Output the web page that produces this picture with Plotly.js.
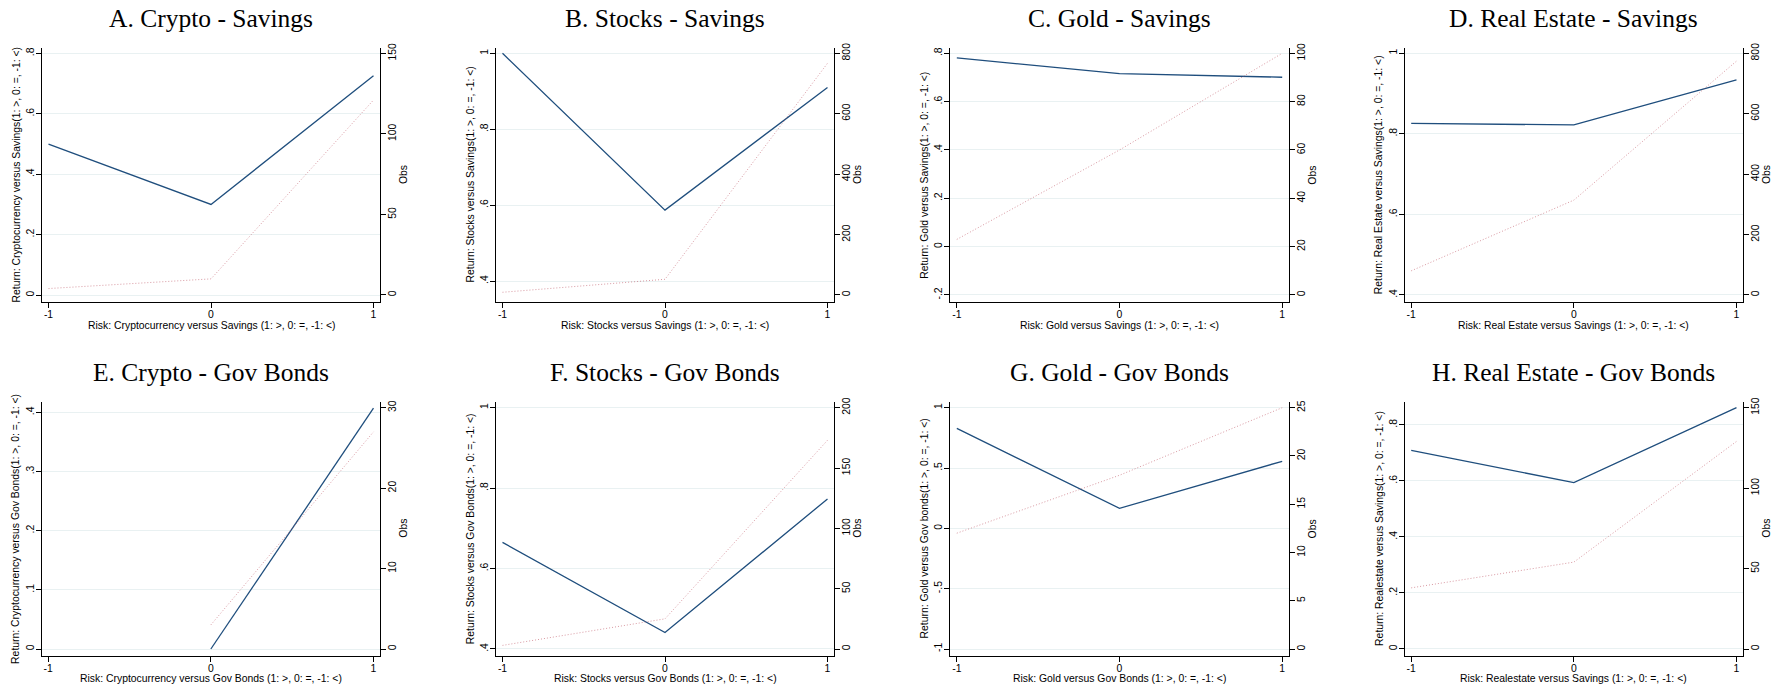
<!DOCTYPE html>
<html>
<head>
<meta charset="utf-8">
<script src="https://cdn.plot.ly/plotly-3.0.1.min.js"></script>
<style>
  html, body { margin: 0; padding: 0; background: #ffffff; }
  #chart { width: 1784px; height: 689px; }
</style>
</head>
<body>
<div id="chart"></div>
<script>
// ---------------- DATA ----------------
const riskCategories = [-1, 0, 1];
const riskTickText = ['-1', '0', '1'];

const panelTitles = [
  'A. Crypto - Savings', 'B. Stocks - Savings', 'C. Gold - Savings', 'D. Real Estate - Savings',
  'E. Crypto - Gov Bonds', 'F. Stocks - Gov Bonds', 'G. Gold - Gov Bonds', 'H. Real Estate - Gov Bonds'
];

const returnTitles = [
  'Return: Cryptocurrency versus Savings(1: >, 0: =, -1: <)',
  'Return: Stocks versus Savings(1: >, 0: =, -1: <)',
  'Return: Gold versus Savings(1: >, 0: =, -1: <)',
  'Return: Real Estate versus Savings(1: >, 0: =, -1: <)',
  'Return: Cryptocurrency versus Gov Bonds(1: >, 0: =, -1: <)',
  'Return: Stocks versus Gov Bonds(1: >, 0: =, -1: <)',
  'Return: Gold versus Gov bonds(1: >, 0: =, -1: <)',
  'Return: Realestate versus Savings(1: >, 0: =, -1: <)'
];

const riskTitles = [
  'Risk: Cryptocurrency versus Savings (1: >, 0: =, -1: <)',
  'Risk: Stocks versus Savings (1: >, 0: =, -1: <)',
  'Risk: Gold versus Savings (1: >, 0: =, -1: <)',
  'Risk: Real Estate versus Savings (1: >, 0: =, -1: <)',
  'Risk: Cryptocurrency versus Gov Bonds (1: >, 0: =, -1: <)',
  'Risk: Stocks versus Gov Bonds (1: >, 0: =, -1: <)',
  'Risk: Gold versus Gov Bonds (1: >, 0: =, -1: <)',
  'Risk: Realestate versus Savings (1: >, 0: =, -1: <)'
];

const obsTitle = 'Obs';

// mean return by risk category (-1, 0, 1)
const returnA = [0.500, 0.300, 0.726];
const returnB = [1.000, 0.587, 0.910];
const returnC = [0.781, 0.716, 0.701];
const returnD = [0.826, 0.822, 0.934];
const returnE = [null, 0.000, 0.407];
const returnF = [0.665, 0.441, 0.773];
const returnG = [0.829, 0.166, 0.556];
const returnH = [0.709, 0.594, 0.862];

// number of observations by risk category (-1, 0, 1)
const obsA = [4, 10, 121];
const obsB = [9, 52, 767];
const obsC = [23, 60, 100];
const obsD = [80, 314, 774];
const obsE = [null, 3, 27];
const obsF = [3, 25, 173];
const obsG = [12, 18, 25];
const obsH = [38, 54, 129];

// left-axis ticks
const retTicksA = [0, 0.2, 0.4, 0.6, 0.8];       const retLabelsA = ['0', '.2', '.4', '.6', '.8'];
const retTicksB = [0.4, 0.6, 0.8, 1];            const retLabelsB = ['.4', '.6', '.8', '1'];
const retTicksC = [-0.2, 0, 0.2, 0.4, 0.6, 0.8]; const retLabelsC = ['-.2', '0', '.2', '.4', '.6', '.8'];
const retTicksD = [0.4, 0.6, 0.8, 1];            const retLabelsD = ['.4', '.6', '.8', '1'];
const retTicksE = [0, 0.1, 0.2, 0.3, 0.4];       const retLabelsE = ['0', '.1', '.2', '.3', '.4'];
const retTicksF = [0.4, 0.6, 0.8, 1];            const retLabelsF = ['.4', '.6', '.8', '1'];
const retTicksG = [-1, -0.5, 0, 0.5, 1];         const retLabelsG = ['-1', '-.5', '0', '.5', '1'];
const retTicksH = [0, 0.2, 0.4, 0.6, 0.8];       const retLabelsH = ['0', '.2', '.4', '.6', '.8'];

// right-axis ticks
const obsTicksA = [0, 50, 100, 150];
const obsTicksB = [0, 200, 400, 600, 800];
const obsTicksC = [0, 20, 40, 60, 80, 100];
const obsTicksD = [0, 200, 400, 600, 800];
const obsTicksE = [0, 10, 20, 30];
const obsTicksF = [0, 50, 100, 150, 200];
const obsTicksG = [0, 5, 10, 15, 20, 25];
const obsTicksH = [0, 50, 100, 150];

// ---------------- ASSEMBLY ----------------
const returns = [returnA, returnB, returnC, returnD, returnE, returnF, returnG, returnH];
const obs = [obsA, obsB, obsC, obsD, obsE, obsF, obsG, obsH];
const retTicks = [retTicksA, retTicksB, retTicksC, retTicksD, retTicksE, retTicksF, retTicksG, retTicksH];
const retLabels = [retLabelsA, retLabelsB, retLabelsC, retLabelsD, retLabelsE, retLabelsF, retLabelsG, retLabelsH];
const obsTicks = [obsTicksA, obsTicksB, obsTicksC, obsTicksD, obsTicksE, obsTicksF, obsTicksG, obsTicksH];

// layout geometry (pixels) and axis ranges
const W = 1784, H = 689;
const frames = [
  {l: 42,    r: 380,    t: 48,    b: 302,   yr: [-0.023, 0.818],   y2r: [-4.35, 153.3]},
  {l: 496,   r: 834,    t: 48,    b: 302,   yr: [0.345, 1.014],    y2r: [-23.2, 817.5]},
  {l: 950.3, r: 1288.7, t: 48,    b: 302,   yr: [-0.229, 0.822],   y2r: [-2.9, 102.2]},
  {l: 1404.7,r: 1743,   t: 48,    b: 302,   yr: [0.3826, 1.013],   y2r: [-23.2, 817.5]},
  {l: 41.7,  r: 380,    t: 401.7, b: 655.7, yr: [-0.0113, 0.418],  y2r: [-0.83, 30.75]},
  {l: 496,   r: 834,    t: 401.7, b: 655.7, yr: [0.3833, 1.0149],  y2r: [-5.55, 204.97]},
  {l: 950.3, r: 1288.7, t: 401.7, b: 655.7, yr: [-1.0555, 1.0497], y2r: [-0.69, 25.62]},
  {l: 1404.7,r: 1743,   t: 401.7, b: 655.7, yr: [-0.024, 0.883],   y2r: [-4.16, 153.7]}
];
const titleCenterY = [18, 18, 18, 18, 372, 372, 372, 372];
const leftTitleGap = 25.5;   // axis line -> centre of left title
const rightTitleGap = 24;    // axis line -> centre of "Obs"
const bottomTitleGap = 23;   // axis line -> centre of x title

const sansFont = 'Liberation Sans, Arial, Helvetica, sans-serif';
const serifFont = 'Liberation Serif, Times New Roman, serif';
const axisFontSize = 10.4;
const blue = '#1f4e7d';
const red = 'rgba(190,85,100,0.6)';

const traces = [];
const layout = {
  width: W, height: H,
  margin: {l: 0, r: 0, t: 0, b: 0},
  paper_bgcolor: '#ffffff',
  plot_bgcolor: '#ffffff',
  showlegend: false,
  annotations: []
};

const axisTitleFont = {family: sansFont, size: axisFontSize, color: '#000000'};

for (let i = 0; i < 8; i++) {
  const f = frames[i];
  const xn = i + 1;
  const yl = 2 * i + 1;
  const yr = 2 * i + 2;
  const xKey = 'xaxis' + (xn === 1 ? '' : xn);
  const ylKey = 'yaxis' + (yl === 1 ? '' : yl);
  const yrKey = 'yaxis' + yr;
  const xRef = 'x' + (xn === 1 ? '' : xn);
  const ylRef = 'y' + (yl === 1 ? '' : yl);
  const yrRef = 'y' + yr;

  const xDom = [f.l / W, f.r / W];
  const yDom = [1 - f.b / H, 1 - f.t / H];

  traces.push({
    x: riskCategories, y: obs[i], type: 'scatter', mode: 'lines',
    xaxis: xRef, yaxis: yrRef,
    line: {color: red, width: 1, dash: '1px,2px'},
    connectgaps: false, hoverinfo: 'skip'
  });
  traces.push({
    x: riskCategories, y: returns[i], type: 'scatter', mode: 'lines',
    xaxis: xRef, yaxis: ylRef,
    line: {color: blue, width: 1.3},
    connectgaps: false, hoverinfo: 'skip'
  });

  const common = {
    ticks: 'outside', ticklen: 5, tickwidth: 1, tickcolor: '#000000',
    ticklabelstandoff: -2,
    showline: true, linecolor: '#000000', linewidth: 1,
    zeroline: false,
    tickfont: {family: sansFont, size: axisFontSize, color: '#000000'},
    fixedrange: true, automargin: false
  };

  layout[xKey] = Object.assign({}, common, {
    domain: xDom, anchor: ylRef,
    range: [-1.04, 1.04],
    tickmode: 'array', tickvals: riskCategories, ticktext: riskTickText,
    showgrid: false
  });

  layout[ylKey] = Object.assign({}, common, {
    domain: yDom, anchor: xRef,
    range: f.yr,
    tickmode: 'array', tickvals: retTicks[i], ticktext: retLabels[i],
    tickangle: -90,
    showgrid: true, gridcolor: '#e9f1f2', gridwidth: 1
  });

  layout[yrKey] = Object.assign({}, common, {
    domain: yDom, anchor: xRef, overlaying: ylRef, side: 'right',
    range: f.y2r,
    tickmode: 'array', tickvals: obsTicks[i], ticktext: obsTicks[i].map(String),
    tickangle: -90,
    showgrid: false
  });

  const midX = (f.l + f.r) / 2 / W;
  const midY = 1 - (f.t + f.b) / 2 / H;

  // panel title
  layout.annotations.push({
    text: panelTitles[i], xref: 'paper', yref: 'paper',
    x: midX, y: 1 - titleCenterY[i] / H,
    xanchor: 'center', yanchor: 'middle', showarrow: false,
    font: {family: serifFont, size: 25.5, color: '#000000'}
  });
  // x axis title
  layout.annotations.push({
    text: riskTitles[i], xref: 'paper', yref: 'paper',
    x: midX, y: 1 - (f.b + bottomTitleGap) / H,
    xanchor: 'center', yanchor: 'middle', showarrow: false, borderpad: 0,
    font: axisTitleFont
  });
  // left y axis title
  layout.annotations.push({
    text: returnTitles[i], xref: 'paper', yref: 'paper',
    x: (f.l - leftTitleGap) / W, y: midY,
    xanchor: 'center', yanchor: 'middle', textangle: -90, showarrow: false, borderpad: 0,
    font: axisTitleFont
  });
  // right y axis title
  layout.annotations.push({
    text: obsTitle, xref: 'paper', yref: 'paper',
    x: (f.r + rightTitleGap) / W, y: midY,
    xanchor: 'center', yanchor: 'middle', textangle: -90, showarrow: false, borderpad: 0,
    font: axisTitleFont
  });
}

Plotly.newPlot('chart', traces, layout, {displayModeBar: false, staticPlot: true});
</script>
</body>
</html>
